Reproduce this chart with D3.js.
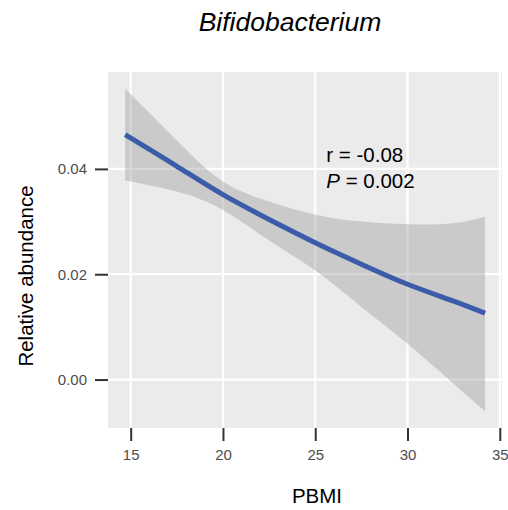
<!DOCTYPE html>
<html>
<head>
<meta charset="utf-8">
<script src="https://cdn.jsdelivr.net/npm/d3@7"></script>
<style>
  body { margin: 0; background: #fff; }
  svg text { font-family: "Liberation Sans", Arial, sans-serif; }
</style>
</head>
<body>
<div id="chart"></div>
<script>
// smoothed fit of relative abundance vs PBMI, with its confidence band
const pbmi  = [14.7, 17.5, 20, 22.5, 25, 27.5, 30, 32.5, 34.2];
const fit   = [0.0465, 0.0405, 0.0351, 0.0304, 0.0260, 0.0219, 0.0181, 0.0149, 0.0126];
const upper = [0.0552, 0.0454, 0.0376, 0.0338, 0.0313, 0.0300, 0.0295, 0.0297, 0.0309];
const lower = [0.0378, 0.0357, 0.0322, 0.0264, 0.0207, 0.0138, 0.0068, -0.0008, -0.0060];

const xTicks = [15, 20, 25, 30, 35];
const yTicks = [0, 0.02, 0.04];

const TITLE = 'Bifidobacterium';
const X_LABEL = 'PBMI';
const Y_LABEL = 'Relative abundance';
const STATS = ['r = -0.08', '= 0.002'];

const WIDTH = 508, HEIGHT = 510;
const MARGIN = { top: 72, right: 6, bottom: 82, left: 108 };
const PW = WIDTH - MARGIN.left - MARGIN.right;
const PH = HEIGHT - MARGIN.top - MARGIN.bottom;

const svg = d3.select('#chart')
  .append('svg')
    .attr('width', WIDTH)
    .attr('height', HEIGHT);

const g = svg.append('g')
  .attr('transform', `translate(${MARGIN.left}, ${MARGIN.top})`);

const x = d3.scaleLinear().domain([13.77, 35.12]).range([0, PW]);
const y = d3.scaleLinear().domain([-0.0092, 0.0584]).range([PH, 0]);

const rows = pbmi.map((p, i) => ({ x: p, fit: fit[i], lo: lower[i], hi: upper[i] }));

// panel
g.append('rect')
  .attr('width', PW)
  .attr('height', PH)
  .attr('fill', '#ebebeb');

// grid
g.selectAll('.vgrid')
  .data(xTicks)
  .enter().append('line')
    .attr('x1', d => x(d)).attr('x2', d => x(d))
    .attr('y1', 0).attr('y2', PH)
    .attr('stroke', '#fff')
    .attr('stroke-width', 2.2);

g.selectAll('.hgrid')
  .data(yTicks)
  .enter().append('line')
    .attr('x1', 0).attr('x2', PW)
    .attr('y1', d => y(d)).attr('y2', d => y(d))
    .attr('stroke', '#fff')
    .attr('stroke-width', 2.2);

// confidence band
const band = d3.area()
  .x(d => x(d.x))
  .y0(d => y(d.lo))
  .y1(d => y(d.hi))
  .curve(d3.curveNatural);

g.append('path')
  .datum(rows)
  .attr('d', band)
  .attr('fill', '#999999')
  .attr('fill-opacity', 0.4);

// fit line
const line = d3.line()
  .x(d => x(d.x))
  .y(d => y(d.fit))
  .curve(d3.curveNatural);

g.append('path')
  .datum(rows)
  .attr('d', line)
  .attr('fill', 'none')
  .attr('stroke', '#3a5ca9')
  .attr('stroke-width', 5);

// axes
const xAxis = g.append('g')
  .attr('transform', `translate(0, ${PH})`)
  .call(d3.axisBottom(x).tickValues(xTicks).tickSize(13).tickSizeOuter(0).tickPadding(8));

const yAxis = g.append('g')
  .call(d3.axisLeft(y).tickValues(yTicks).tickFormat(d3.format('.2f')).tickSize(13).tickSizeOuter(0).tickPadding(8));

[xAxis, yAxis].forEach(ax => {
  ax.select('.domain').remove();
  ax.selectAll('.tick line').attr('stroke', '#333').attr('stroke-width', 2);
  ax.selectAll('.tick text')
    .attr('fill', '#4d4d4d')
    .style('font-size', '15px')
    .style('font-family', '"Liberation Sans", Arial, sans-serif');
});

// stats annotation
const note = g.append('g')
  .attr('transform', `translate(${x(25.6)}, 0)`)
  .style('font-size', '20.5px')
  .attr('fill', '#000');

note.append('text')
  .attr('y', 90)
  .text(STATS[0]);

const pLine = note.append('text').attr('y', 116);
pLine.append('tspan').style('font-style', 'italic').text('P');
pLine.append('tspan').text(' ' + STATS[1]);

// titles
svg.append('text')
  .attr('x', 290)
  .attr('y', 31)
  .attr('text-anchor', 'middle')
  .style('font-size', '26.5px')
  .style('font-style', 'italic')
  .text(TITLE);

svg.append('text')
  .attr('x', 317)
  .attr('y', 503)
  .attr('text-anchor', 'middle')
  .style('font-size', '20.5px')
  .text(X_LABEL);

svg.append('text')
  .attr('transform', 'translate(33, 276) rotate(-90)')
  .attr('text-anchor', 'middle')
  .style('font-size', '20.5px')
  .text(Y_LABEL);
</script>
</body>
</html>
